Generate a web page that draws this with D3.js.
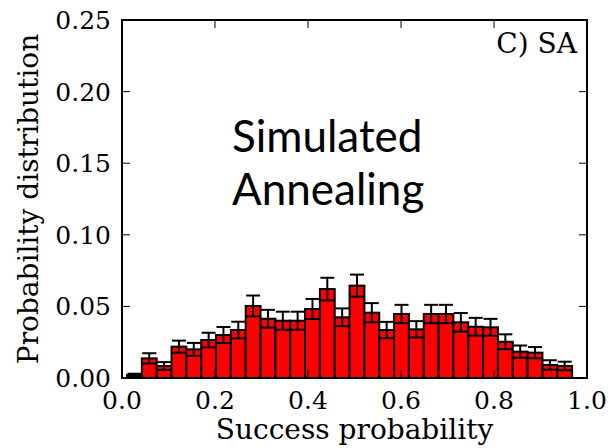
<!DOCTYPE html>
<html>
<head>
    <title>SA success probability</title>
    <script src="https://d3js.org/d3.v7.min.js"></script>
    <style>
        body { margin: 0; background: #fff; }
        svg { display: block; }
    </style>
</head>
<body>
    <svg id="chart"></svg>

    <script>
        // Histogram range (numpy-style, from data min to max) and bin count
        const binLo = 0.0108, binHi = 0.968, nBins = 30;

        // Probability per bin
        const probs = [0.0020, 0.0137, 0.0084, 0.0219, 0.0200, 0.0265, 0.0300, 0.0335, 0.0503, 0.0414,
                       0.0400, 0.0400, 0.0482, 0.0621, 0.0424, 0.0645, 0.0456, 0.0335, 0.0447, 0.0340,
                       0.0447, 0.0447, 0.0389, 0.0358, 0.0354, 0.0253, 0.0184, 0.0177, 0.0091, 0.0084];

        // Error bar half-heights
        const errs = [0.0010, 0.0036, 0.0027, 0.0042, 0.0045, 0.0051, 0.0056, 0.0058, 0.0073, 0.0062,
                      0.0063, 0.0063, 0.0070, 0.0079, 0.0062, 0.0077, 0.0067, 0.0057, 0.0064, 0.0057,
                      0.0064, 0.0064, 0.0065, 0.0062, 0.0059, 0.0052, 0.0043, 0.0039, 0.0033, 0.0030];

        const xTicks = [0.0, 0.2, 0.4, 0.6, 0.8, 1.0];
        const yTicks = [0.00, 0.05, 0.10, 0.15, 0.20, 0.25];

        let width = 613, height = 448;
        const plotL = 122, plotR = 587, plotT = 20, plotB = 378;

        const svg = d3.select("#chart")
            .attr("width", width)
            .attr("height", height);

        const x = d3.scaleLinear().domain([0, 1]).range([plotL, plotR]);
        const y = d3.scaleLinear().domain([0, 0.25]).range([plotB, plotT]);

        const bw = (binHi - binLo) / nBins;
        const bins = probs.map((p, i) => ({
            x0: binLo + i * bw,
            x1: binLo + (i + 1) * bw,
            p: p,
            e: errs[i]
        }));

        // Bars
        svg.append("g")
            .selectAll("rect")
            .data(bins)
            .join("rect")
                .attr("x", d => x(d.x0))
                .attr("y", d => y(d.p))
                .attr("width", d => x(d.x1) - x(d.x0))
                .attr("height", d => y(0) - y(d.p))
                .attr("fill", "#ff0000")
                .attr("stroke", "#000")
                .attr("stroke-width", 2);

        // Error bars
        const capHalf = 7;
        const eb = svg.append("g")
            .attr("stroke", "#000")
            .attr("stroke-width", 2)
            .selectAll("g")
            .data(bins)
            .join("g");
        eb.append("line")
            .attr("x1", d => x((d.x0 + d.x1) / 2))
            .attr("x2", d => x((d.x0 + d.x1) / 2))
            .attr("y1", d => y(d.p - d.e))
            .attr("y2", d => y(d.p + d.e));
        eb.append("line")
            .attr("x1", d => x((d.x0 + d.x1) / 2) - capHalf)
            .attr("x2", d => x((d.x0 + d.x1) / 2) + capHalf)
            .attr("y1", d => y(d.p + d.e))
            .attr("y2", d => y(d.p + d.e));
        eb.append("line")
            .attr("x1", d => x((d.x0 + d.x1) / 2) - capHalf)
            .attr("x2", d => x((d.x0 + d.x1) / 2) + capHalf)
            .attr("y1", d => y(d.p - d.e))
            .attr("y2", d => y(d.p - d.e));

        // Inward ticks on all four sides
        const tickLen = 8;
        const ticks = svg.append("g")
            .attr("stroke", "#000")
            .attr("stroke-width", 1);
        ticks.selectAll(".xb").data(xTicks).join("line")
            .attr("x1", d => x(d)).attr("x2", d => x(d))
            .attr("y1", plotB).attr("y2", plotB - tickLen);
        ticks.selectAll(".xt").data(xTicks).join("line")
            .attr("x1", d => x(d)).attr("x2", d => x(d))
            .attr("y1", plotT).attr("y2", plotT + tickLen);
        ticks.selectAll(".yl").data(yTicks).join("line")
            .attr("x1", plotL).attr("x2", plotL + tickLen)
            .attr("y1", d => y(d)).attr("y2", d => y(d));
        ticks.selectAll(".yr").data(yTicks).join("line")
            .attr("x1", plotR).attr("x2", plotR - tickLen)
            .attr("y1", d => y(d)).attr("y2", d => y(d));

        // Frame
        svg.append("rect")
            .attr("x", plotL).attr("y", plotT)
            .attr("width", plotR - plotL).attr("height", plotB - plotT)
            .attr("fill", "none")
            .attr("stroke", "#000")
            .attr("stroke-width", 2);

        const serif = "'DejaVu Serif', serif";

        // Tick labels
        svg.append("g")
            .selectAll("text")
            .data(xTicks)
            .join("text")
                .attr("x", d => x(d))
                .attr("y", 409)
                .attr("text-anchor", "middle")
                .style("font-family", serif)
                .style("font-size", "25px")
                .text(d3.format(".1f"));

        svg.append("g")
            .selectAll("text")
            .data(yTicks)
            .join("text")
                .attr("x", 111)
                .attr("y", d => y(d) + 9)
                .attr("text-anchor", "end")
                .style("font-family", serif)
                .style("font-size", "25px")
                .text(d3.format(".2f"));

        // Axis labels
        svg.append("text")
            .attr("x", (plotL + plotR) / 2)
            .attr("y", 439)
            .attr("text-anchor", "middle")
            .style("font-family", serif)
            .style("font-size", "28px")
            .text("Success probability");

        svg.append("text")
            .attr("transform", `translate(38, ${(plotT + plotB) / 2}) rotate(-90)`)
            .attr("text-anchor", "middle")
            .style("font-family", serif)
            .style("font-size", "28px")
            .text("Probability distribution");

        // Panel tag
        svg.append("text")
            .attr("x", 577)
            .attr("y", 53)
            .attr("text-anchor", "end")
            .style("font-family", serif)
            .style("font-size", "28px")
            .text("C) SA");

        // Method label
        const lbl = svg.append("text")
            .style("font-family", "Lato, sans-serif")
            .style("font-size", "44px");
        lbl.append("tspan").attr("x", 232).attr("y", 152).text("Simulated");
        lbl.append("tspan").attr("x", 232).attr("y", 205).text("Annealing");
    </script>
</body>
</html>
